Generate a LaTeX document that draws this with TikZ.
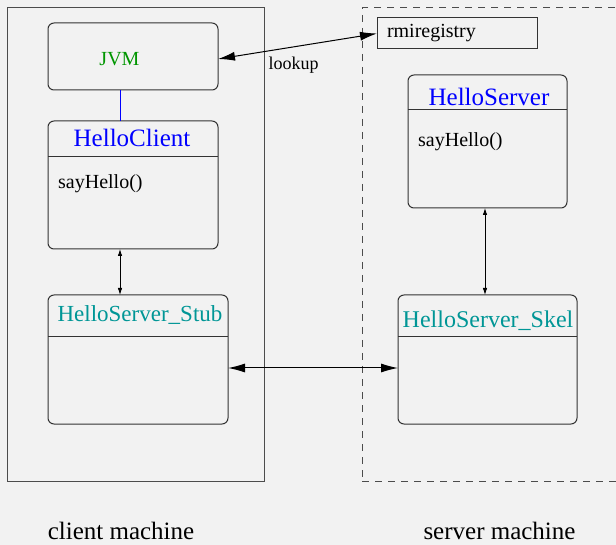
\documentclass[tikz,border=0pt]{standalone}
\usepackage{fontspec}
\setmainfont{Liberation Serif}
\usepackage{xcolor}
\usepackage{tikz}
\usetikzlibrary{arrows.meta}
\definecolor{bggray}{RGB}{242,242,242}
\definecolor{jvmgreen}{RGB}{0,150,0}
\definecolor{stubteal}{RGB}{0,150,150}
\tikzstyle{machine} = [rectangle, draw=black!70, line width=1pt, inner sep=0pt, outer sep=0pt]
\tikzstyle{classbox} = [rectangle, rounded corners=6pt, draw=black!80, line width=1pt, inner sep=0pt, outer sep=0pt]
\tikzstyle{registry} = [rectangle, draw=black!80, line width=1pt, minimum width=160pt, minimum height=31pt, text width=140pt, inner xsep=10pt, align=left, outer sep=0pt, font=\fontsize{20}{24}\selectfont]
\tikzstyle{classname} = [anchor=base, inner sep=0pt, font=\fontsize{25}{30}\selectfont]
\tikzstyle{method} = [anchor=base west, inner sep=0pt, font=\fontsize{20}{24}\selectfont]
\tikzstyle{divider} = [draw=black!80, line width=1pt]
\tikzstyle{bigarrow} = [line width=1pt, <->, >={Latex[length=17pt,width=9pt]}]
\tikzstyle{smallarrow} = [line width=0.8pt, <->, >={Latex[length=7pt,width=4.5pt]}]

\begin{document}
\begin{tikzpicture}[x=1pt, y=-1pt]
    \useasboundingbox (0,0) rectangle (616,545);
    \fill [bggray] (0,0) rectangle (616,545);
    % Machines
    \node (client) [machine, minimum width=257pt, minimum height=473pt] at (135.5,244.5) {};
    \node (server) [machine, dash pattern=on 7pt off 6pt, minimum width=280pt, minimum height=473pt] at (502,244.5) {};
    \node (client_label) [classname] at (121,539.5) {client machine};
    \node (server_label) [classname] at (499.5,539.5) {server machine};
    % Nodes
    \node (jvm) [classbox, minimum width=170pt, minimum height=67pt] at (133,56.5) {};
    \node (jvm_name) [classname, font=\fontsize{20}{24}\selectfont, text=jvmgreen] at ([xshift=-13.5pt, yshift=-42.7pt]jvm.north) {JVM};
    \node (hc) [classbox, minimum width=170pt, minimum height=128pt] at (133,185) {};
    \node (hc_name) [classname, text=blue] at ([xshift=-1pt, yshift=-26pt]hc.north) {HelloClient};
    \node (hc_method) [method] at ([xshift=10pt, yshift=-68pt]hc.north west) {sayHello()};
    \node (stub) [classbox, minimum width=180pt, minimum height=129pt] at (138,359.5) {};
    \node (stub_name) [classname, font=\fontsize{23}{28}\selectfont, text=stubteal] at ([xshift=2pt, yshift=-27pt]stub.north) {HelloServer\_Stub};
    \node (rmi) [registry] at (457,33.5) {rmiregistry};
    \node (hs) [classbox, minimum width=159pt, minimum height=133pt] at (487.5,141.5) {};
    \node (hs_name) [classname, text=blue] at ([xshift=1.5pt, yshift=-31pt]hs.north) {HelloServer};
    \node (hs_method) [method] at ([xshift=10pt, yshift=-72pt]hs.north west) {sayHello()};
    \node (skel) [classbox, minimum width=179pt, minimum height=129pt] at (487.5,359.5) {};
    \node (skel_name) [classname, font=\fontsize{24}{29}\selectfont, text=stubteal] at ([xshift=0.5pt, yshift=-33pt]skel.north) {HelloServer\_Skel};
    % Dividers
    \draw [divider] ([yshift=-36pt]hc.north west) -- ([yshift=-36pt]hc.north east);
    \draw [divider] ([yshift=-35pt]hs.north west) -- ([yshift=-35pt]hs.north east);
    \draw [divider] ([yshift=-42pt]stub.north west) -- ([yshift=-42pt]stub.north east);
    \draw [divider] ([yshift=-42pt]skel.north west) -- ([yshift=-42pt]skel.north east);
    % Arrows
    \draw [blue, line width=1pt] ([xshift=-13pt]jvm.south) -- ([xshift=-13pt]hc.north);
    \draw [bigarrow] ([yshift=-2.5pt]jvm.east) -- node[midway, below, inner sep=0pt, yshift=-10pt, xshift=-4pt, font=\fontsize{18}{22}\selectfont] {lookup} (rmi.west);
    \draw [smallarrow] ([xshift=-13pt]hc.south) -- ([xshift=-13pt]hc.south |- stub.north);
    \draw [smallarrow] ([xshift=-2.5pt]hs.south) -- ([xshift=-2.5pt]hs.south |- skel.north);
    \draw [bigarrow] ([yshift=-8.5pt]stub.east) -- ([yshift=-8.5pt]skel.west);
\end{tikzpicture}
\end{document}
